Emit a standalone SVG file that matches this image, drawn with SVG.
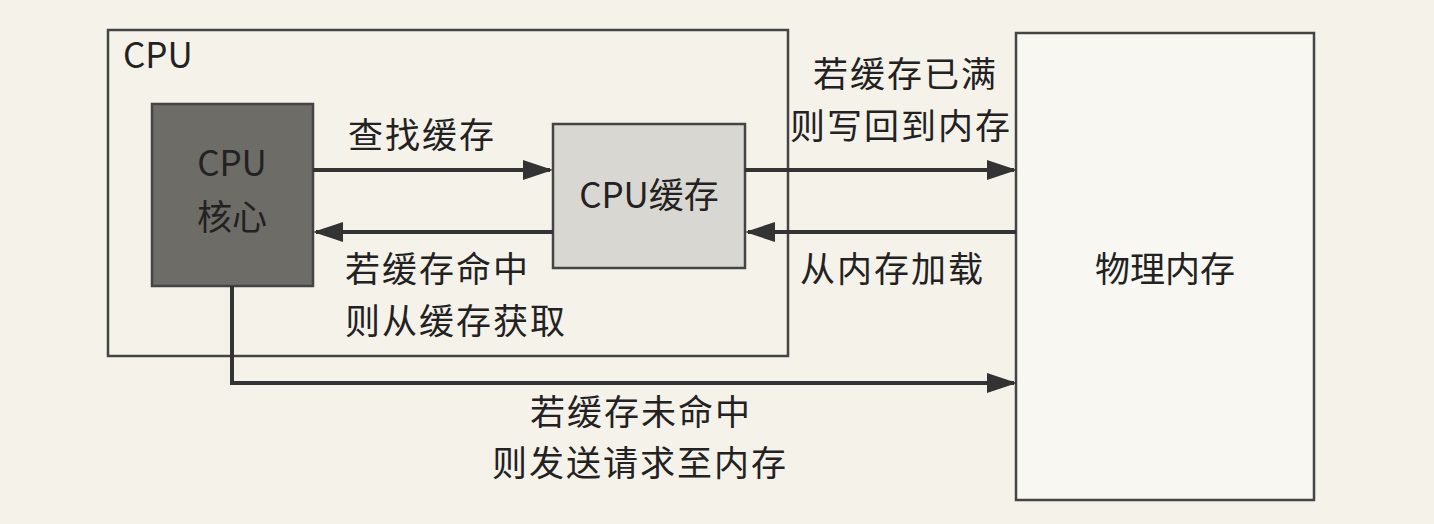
<svg xmlns="http://www.w3.org/2000/svg" width="1434" height="524" viewBox="0 0 1434 524">
<style>
text{font-family:"Noto Sans CJK SC","Noto Sans",sans-serif;fill:#222;font-size:35px}
.l{letter-spacing:2px}
.c{stroke:#333;stroke-width:4;fill:none}
.box{stroke:#444;stroke-width:2.5}
</style>
<defs>
<marker id="ah" viewBox="0 0 10 10" refX="9" refY="5" markerWidth="7.5" markerHeight="5" orient="auto" markerUnits="strokeWidth" preserveAspectRatio="none"><path d="M0,0L10,5L0,10z" fill="#333"/></marker>
</defs>
<rect width="1434" height="524" fill="#f5f2ea"/>
<g id="cpu"><rect class="box" x="108" y="30" width="680" height="326" fill="none"/><text x="123" y="68" font-size="26">CPU</text></g>
<g id="core"><rect class="box" x="152" y="104" width="161" height="182" fill="#6e6c67"/><text x="232" y="176" text-anchor="middle" font-size="29" fill="#1a1a1a">CPU</text><text x="232" y="230" text-anchor="middle" font-size="31">核心</text></g>
<g id="cache"><rect class="box" x="553" y="124" width="192" height="144" fill="#d9d7d1"/><text x="649" y="208" text-anchor="middle" font-size="30">CPU缓存</text></g>
<g id="mem"><rect class="box" x="1016" y="33" width="298" height="467" fill="#f9f7f1"/><text x="1165" y="282" text-anchor="middle" font-size="35">物理内存</text></g>
<g id="connectors">
<line class="c" x1="313" y1="170" x2="550" y2="170" marker-end="url(#ah)"/>
<line class="c" x1="553" y1="232" x2="316" y2="232" marker-end="url(#ah)"/>
<line class="c" x1="745" y1="170" x2="1014" y2="170" marker-end="url(#ah)"/>
<line class="c" x1="1016" y1="232" x2="748" y2="232" marker-end="url(#ah)"/>
<polyline class="c" points="232,286 232,383 1014,383" marker-end="url(#ah)"/>
</g>
<g id="labels">
<text class="l" x="348" y="148">查找缓存</text>
<text class="l" x="345" y="282">若缓存命中</text>
<text class="l" x="345" y="334">则从缓存获取</text>
<text class="l" x="813" y="87">若缓存已满</text>
<text class="l" x="790" y="139">则写回到内存</text>
<text class="l" x="800" y="282">从内存加载</text>
<text class="l" x="530" y="425">若缓存未命中</text>
<text class="l" x="492" y="476">则发送请求至内存</text>
</g>
</svg>
